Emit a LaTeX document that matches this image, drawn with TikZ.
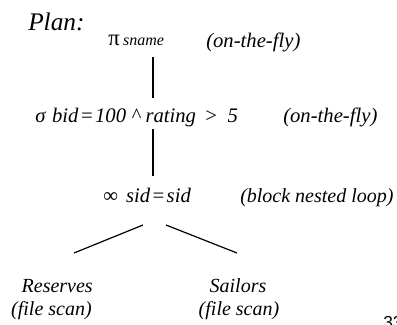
\documentclass[tikz,border=0pt]{standalone}
\usepackage{fontspec}
\setmainfont{Liberation Serif}
\setsansfont{Liberation Sans}
\usetikzlibrary{positioning,calc}

\begin{document}
\begin{tikzpicture}[x=0.75pt,y=-0.75pt,
		txt/.style={inner sep=0pt, font=\fontsize{15}{17}\selectfont\itshape},
		note/.style={txt, anchor=base west},
		edge/.style={line width=1.5pt},
		leaf/.style={line width=0.9pt}]
			\useasboundingbox (0,0) rectangle (397,325);
			\coordinate (spine) at (153,0);
			\node [txt, anchor=base west, font=\fontsize{19}{21}\selectfont\itshape] (plan) at (28,30) {Plan:};
			\node [txt, anchor=base west] (proj) at (108,45) {{\upshape\fontsize{17}{18}\selectfont π}\,{\fontsize{12}{13}\selectfont sname}};
			\node [note, font=\fontsize{15.5}{17}\selectfont\itshape] (fly1) at (206,47) {(on-the-fly)};
			\node [txt, anchor=base west, font=\fontsize{15.5}{17}\selectfont\itshape] (sel) at (35,122)
				{σ\hspace{5pt}bid\kern1pt=\kern1pt100\hspace{4pt}\textasciicircum\hspace{4pt}rating\hspace{7pt}{\upshape >}\hspace{8pt}5};
			\node [note, font=\fontsize{15.5}{17}\selectfont\itshape] (fly2) at (283,122) {(on-the-fly)};
			\node [txt, anchor=base west, font=\fontsize{15.5}{17}\selectfont\itshape] (join) at (103,202) {{\upshape ∞}\hspace{6pt}sid\kern1pt=\kern1pt sid};
			\node [note] (bnl) at (240,202) {(block nested loop)};
			\node [txt, anchor=base east] (res) at (93,292) {Reserves};
			\node [txt, anchor=base east] (resscan) at (92,315) {(file scan)};
			\node [txt, anchor=base] (sail) at (238,292) {Sailors};
			\node [txt, anchor=base] (sailscan) at (239,315) {(file scan)};
			\node [inner sep=0pt, anchor=base west, font=\sffamily\fontsize{13}{14}\selectfont] (page) at (383,328) {33};
			
			\draw [edge] ($(spine |- proj.base)+(0,12)$) -- ($(spine |- sel.base)+(0,-24)$);
			\draw [edge] ($(spine |- sel.base)+(0,7)$) -- ($(spine |- join.base)+(0,-26)$);
			\draw [leaf] ($(spine |- join.base)+(-10,23)$) -- ($(res.base east)+(-19,-39)$);
			\draw [leaf] ($(spine |- join.base)+(13,23)$) -- ($(sail.base)+(-1,-39)$);
		\end{tikzpicture}
\end{document}
